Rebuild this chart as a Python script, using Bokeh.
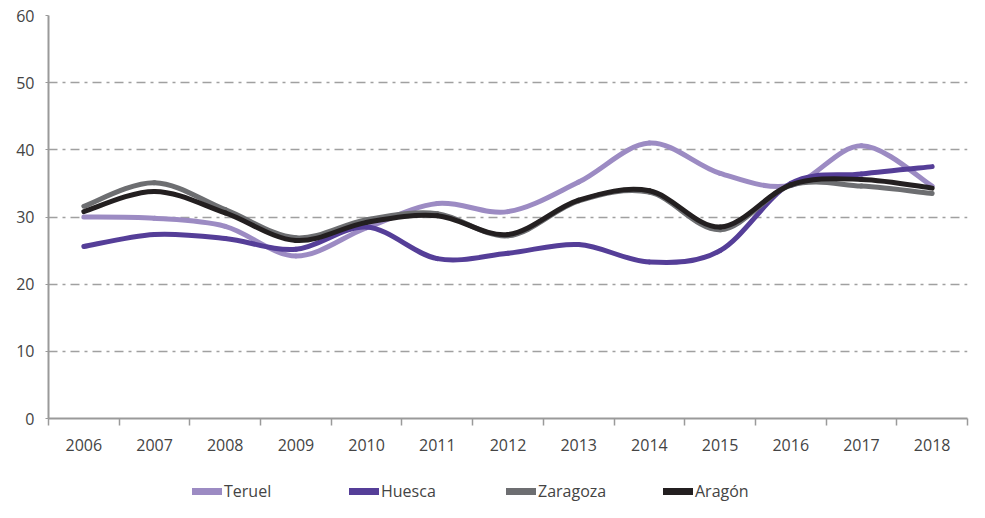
from bokeh.plotting import figure
from bokeh.layouts import column
from bokeh.models import FixedTicker, Legend, LegendItem, ColumnDataSource
from bokeh.embed import file_html
from bokeh.resources import INLINE

years = ["2006", "2007", "2008", "2009", "2010", "2011", "2012",
         "2013", "2014", "2015", "2016", "2017", "2018"]
teruel = [30.0, 29.8, 28.6, 24.2, 28.4, 32.0, 30.8, 35.2, 41.0, 36.5, 34.7, 40.6, 34.6]
huesca = [25.6, 27.4, 26.8, 25.2, 28.5, 23.8, 24.6, 25.9, 23.3, 25.0, 35.0, 36.4, 37.5]
zaragoza = [31.6, 35.1, 31.1, 26.9, 29.6, 30.5, 27.2, 32.4, 33.7, 28.1, 34.7, 34.6, 33.5]
aragon = [30.8, 33.8, 30.6, 26.5, 29.2, 30.2, 27.4, 32.5, 33.9, 28.5, 34.8, 35.6, 34.3]

series = [("Teruel", teruel, "#9c8bc3"),
          ("Huesca", huesca, "#553e98"),
          ("Zaragoza", zaragoza, "#6d6e71"),
          ("Aragón", aragon, "#231f20")]

FONT = "Open Sans"
TXT = "#444444"
GRID = "#a0a0a0"

p = figure(width=969, height=470, x_range=(-0.5, 12.5), y_range=(0, 60),
           output_backend="svg", toolbar_location=None,
           min_border_left=48, min_border_right=2, min_border_top=15,
           min_border_bottom=52)
p.outline_line_color = None
p.xgrid.grid_line_color = None
p.ygrid.grid_line_color = GRID
p.ygrid.grid_line_width = 1.5
p.ygrid.grid_line_dash = "9 5 3 5"
p.ygrid.ticker = FixedTicker(ticks=[10, 20, 30, 40, 50, 60])

xa = p.xaxis[0]
xa.ticker = FixedTicker(ticks=list(range(len(years))),
                        minor_ticks=[i - 0.5 for i in range(len(years) + 1)])
xa.major_label_overrides = {i: y for i, y in enumerate(years)}
xa.axis_line_color = "#9a9a9a"
xa.axis_line_width = 2
xa.major_tick_line_color = None
xa.major_tick_out = 0
xa.major_tick_in = 0
xa.minor_tick_line_color = "#9a9a9a"
xa.minor_tick_line_width = 1.5
xa.minor_tick_out = 7
xa.minor_tick_in = 0
xa.major_label_standoff = 13
xa.major_label_text_font = FONT
xa.major_label_text_font_size = "16px"
xa.major_label_text_color = TXT

ya = p.yaxis[0]
ya.ticker = FixedTicker(ticks=[0, 10, 20, 30, 40, 50, 60])
ya.axis_line_color = "#9a9a9a"
ya.axis_line_width = 2
ya.major_tick_line_color = "#9a9a9a"
ya.major_tick_out = 3
ya.major_tick_in = 0
ya.minor_tick_line_color = None
ya.major_label_standoff = 11
ya.major_label_text_font = FONT
ya.major_label_text_font_size = "16px"
ya.major_label_text_color = TXT

# legend strip
p2 = figure(width=969, height=32, x_range=(0, 1), y_range=(0, 1),
            output_backend="svg", toolbar_location=None, min_border=0)
p2.outline_line_color = None
p2.axis.visible = False
p2.grid.visible = False

nan = float("nan")
items = []
for name, vals, color in series:
    n = len(vals)
    xs = list(range(n))
    x0, y0, x1, y1, cx0, cy0, cx1, cy1 = [], [], [], [], [], [], [], []
    for i in range(n - 1):
        xp, yp = (xs[i - 1], vals[i - 1]) if i > 0 else (xs[i], vals[i])
        xn, yn = (xs[i + 2], vals[i + 2]) if i + 2 < n else (xs[i + 1], vals[i + 1])
        x0.append(xs[i]); y0.append(vals[i])
        x1.append(xs[i + 1]); y1.append(vals[i + 1])
        cx0.append(xs[i] + (xs[i + 1] - xp) / 6.0)
        cy0.append(vals[i] + (vals[i + 1] - yp) / 6.0)
        cx1.append(xs[i + 1] - (xn - xs[i]) / 6.0)
        cy1.append(vals[i + 1] - (yn - vals[i]) / 6.0)
    src = ColumnDataSource(dict(x0=x0, y0=y0, x1=x1, y1=y1,
                                cx0=cx0, cy0=cy0, cx1=cx1, cy1=cy1))
    p.bezier(x0="x0", y0="y0", x1="x1", y1="y1", cx0="cx0", cy0="cy0",
             cx1="cx1", cy1="cy1", source=src, line_color=color,
             line_width=5, line_cap="round")
    dummy = p2.line(x=[nan], y=[nan], line_color=color, line_width=7,
                    line_cap="round")
    items.append(LegendItem(label=name, renderers=[dummy]))

legend = Legend(items=items, orientation="horizontal", location=(144, 0),
                label_width=125, glyph_width=30, glyph_height=20,
                label_standoff=2, spacing=0, padding=0, margin=0,
                border_line_alpha=0, background_fill_alpha=0,
                label_text_font=FONT, label_text_font_size="16px",
                label_text_color=TXT)
p2.add_layout(legend, "center")

open("out.html", "w").write(file_html(column(p, p2), INLINE))
